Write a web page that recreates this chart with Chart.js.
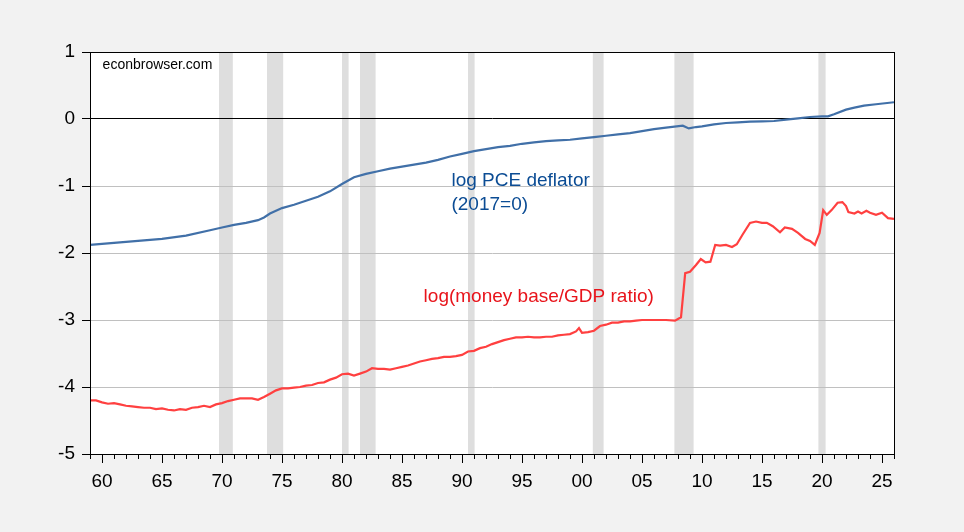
<!DOCTYPE html>
<html lang="en">
<head>
    <meta charset="UTF-8">
    <title>log PCE deflator and log(money base/GDP ratio)</title>
    <script src="https://cdn.jsdelivr.net/npm/chart.js"></script>
    <style>
        html, body { margin: 0; padding: 0; background: #F2F2F2; }
        #grafico { display: block; }
    </style>
</head>
<body>
    <canvas id="grafico" width="964" height="532"></canvas>

    <script>
        // log PCE deflator (2017=0)
        var pceYears = [1959, 1961, 1963, 1965, 1967, 1969, 1970, 1971, 1972, 1973, 1973.5, 1974, 1975, 1976, 1977, 1978, 1979, 1980, 1981, 1982,
            1983, 1984, 1985, 1986, 1987, 1988, 1989, 1990, 1991, 1992, 1993, 1994, 1995, 1996, 1997, 1998, 1999, 2000, 2001, 2002,
            2003, 2004, 2005, 2006, 2007, 2008.4, 2008.9, 2009.5, 2010, 2011, 2012, 2013, 2014, 2015, 2016, 2017, 2018, 2019, 2020,
            2020.5, 2021, 2022, 2022.7, 2023.5, 2024.5, 2026];
        var pceValues = [-1.88, -1.85, -1.82, -1.79, -1.74, -1.66, -1.62, -1.58, -1.55, -1.51, -1.47, -1.41, -1.33, -1.28, -1.22, -1.16, -1.08, -0.97, -0.87, -0.82,
            -0.78, -0.74, -0.71, -0.68, -0.65, -0.61, -0.56, -0.52, -0.48, -0.45, -0.42, -0.40, -0.37, -0.35, -0.33, -0.32, -0.31, -0.29, -0.27, -0.25,
            -0.23, -0.21, -0.18, -0.15, -0.13, -0.10, -0.14, -0.12, -0.11, -0.08, -0.06, -0.05, -0.04, -0.035, -0.03, -0.01, 0.01, 0.03, 0.04,
            0.04, 0.07, 0.14, 0.17, 0.20, 0.22, 0.25];

        // log(money base/GDP ratio)
        var baseYears = [1959, 1959.5, 1960, 1960.5, 1961, 1961.5, 1962, 1962.5, 1963, 1963.5, 1964, 1964.5, 1965, 1965.5, 1966, 1966.5, 1967, 1967.5, 1968, 1968.5,
            1969, 1969.5, 1970, 1970.5, 1971, 1971.5, 1972, 1972.5, 1973, 1973.5, 1974, 1974.5, 1975, 1975.5, 1976, 1976.5, 1977, 1977.5, 1978, 1978.5,
            1979, 1979.5, 1980, 1980.5, 1981, 1981.5, 1982, 1982.5, 1983, 1983.5, 1984, 1984.5, 1985, 1985.5, 1986, 1986.5, 1987, 1987.5, 1988, 1988.5,
            1989, 1989.5, 1990, 1990.5, 1991, 1991.5, 1992, 1992.5, 1993, 1993.5, 1994, 1994.5, 1995, 1995.5, 1996, 1996.5, 1997, 1997.5, 1998, 1998.5,
            1999, 1999.5, 1999.75, 2000, 2000.5, 2001, 2001.5, 2002, 2002.5, 2003, 2003.5, 2004, 2004.5, 2005, 2006, 2007, 2007.75, 2008.25, 2008.6, 2009,
            2009.5, 2009.9, 2010.3, 2010.7, 2011.1, 2011.5, 2012, 2012.5, 2012.9, 2013.4, 2014, 2014.5, 2015, 2015.4, 2015.9, 2016.5, 2016.9, 2017.5, 2018, 2018.6,
            2019, 2019.4, 2019.8, 2020.1, 2020.4, 2020.8, 2021.3, 2021.7, 2022, 2022.2, 2022.7, 2023, 2023.3, 2023.7, 2024, 2024.5, 2025, 2025.5, 2026];
        var baseValues = [-4.20, -4.20, -4.23, -4.25, -4.24, -4.26, -4.28, -4.29, -4.30, -4.31, -4.31, -4.33, -4.32, -4.34, -4.35, -4.33, -4.34, -4.31, -4.30, -4.28,
            -4.30, -4.26, -4.24, -4.21, -4.19, -4.17, -4.17, -4.17, -4.19, -4.15, -4.10, -4.05, -4.02, -4.02, -4.01, -4.00, -3.98, -3.97, -3.94, -3.93,
            -3.89, -3.86, -3.81, -3.80, -3.83, -3.80, -3.77, -3.72, -3.73, -3.73, -3.74, -3.72, -3.70, -3.68, -3.65, -3.62, -3.60, -3.58, -3.57, -3.55,
            -3.55, -3.54, -3.52, -3.47, -3.46, -3.42, -3.40, -3.36, -3.33, -3.30, -3.28, -3.26, -3.26, -3.25, -3.26, -3.26, -3.25, -3.25, -3.23, -3.22,
            -3.21, -3.17, -3.12, -3.19, -3.18, -3.16, -3.09, -3.07, -3.04, -3.04, -3.02, -3.02, -3.01, -3.00, -3.00, -3.00, -3.01, -2.96, -2.30, -2.28,
            -2.18, -2.09, -2.14, -2.13, -1.88, -1.89, -1.88, -1.91, -1.87, -1.72, -1.55, -1.53, -1.55, -1.55, -1.60, -1.69, -1.62, -1.64, -1.70, -1.79,
            -1.82, -1.88, -1.70, -1.36, -1.43, -1.36, -1.25, -1.24, -1.30, -1.39, -1.41, -1.38, -1.41, -1.37, -1.40, -1.43, -1.40, -1.48, -1.49];

        // NBER recessions (shaded)
        var recessionStart = [1969.75, 1973.75, 1980.0, 1981.5, 1990.5, 2000.9, 2007.7, 2019.7];
        var recessionEnd = [1970.9, 1975.1, 1980.55, 1982.8, 1991.05, 2001.8, 2009.3, 2020.3];

        var yTicks = [1, 0, -1, -2, -3, -4, -5];

        function pontos(xs, ys) {
            return xs.map((x, i) => ({ x: x, y: ys[i] }));
        }

        // fundo cinza, area branca e faixas de recessao
        const fundoPlugin = {
            id: 'fundo',
            beforeDraw(chart) {
                const ctx = chart.ctx;
                const a = chart.chartArea;
                const xs = chart.scales.x;
                ctx.save();
                ctx.fillStyle = '#F2F2F2';
                ctx.fillRect(0, 0, chart.width, chart.height);
                ctx.fillStyle = '#FFFFFF';
                ctx.fillRect(a.left, a.top, a.right - a.left, a.bottom - a.top);
                ctx.fillStyle = '#DEDEDE';
                for (let i = 0; i < recessionStart.length; i++) {
                    const x0 = xs.getPixelForValue(recessionStart[i]);
                    const x1 = xs.getPixelForValue(recessionEnd[i]);
                    ctx.fillRect(x0, a.top, x1 - x0, a.bottom - a.top);
                }
                ctx.restore();
            }
        };

        // moldura, marcas do eixo x e textos
        const molduraPlugin = {
            id: 'moldura',
            afterDraw(chart) {
                const ctx = chart.ctx;
                const a = chart.chartArea;
                const xs = chart.scales.x;
                const ys = chart.scales.y;
                ctx.save();
                ctx.strokeStyle = '#000000';
                ctx.lineWidth = 1;
                ctx.strokeRect(Math.round(a.left) + 0.5, Math.round(a.top) + 0.5,
                    Math.round(a.right - a.left), Math.round(a.bottom - a.top));

                ctx.beginPath();
                xs.ticks.forEach(t => {
                    const px = Math.round(xs.getPixelForValue(t.value)) + 0.5;
                    const len = (t.value % 5 === 0) ? 9 : 5;
                    ctx.moveTo(px, a.bottom);
                    ctx.lineTo(px, a.bottom + len);
                });
                ctx.stroke();

                ctx.textBaseline = 'middle';
                ctx.textAlign = 'left';
                ctx.font = '14px "Liberation Sans", Arial, sans-serif';
                ctx.fillStyle = '#000000';
                ctx.fillText('econbrowser.com', xs.getPixelForValue(1960.05), ys.getPixelForValue(0.81));

                ctx.font = '19px "Liberation Sans", Arial, sans-serif';
                ctx.fillStyle = '#0B4C94';
                ctx.fillText('log PCE deflator', xs.getPixelForValue(1989.12), ys.getPixelForValue(-0.92));
                ctx.fillText('(2017=0)', xs.getPixelForValue(1989.12), ys.getPixelForValue(-1.28));

                ctx.fillStyle = '#E8141B';
                ctx.fillText('log(money base/GDP ratio)', xs.getPixelForValue(1986.8), ys.getPixelForValue(-2.65));
                ctx.restore();
            }
        };

        const config = {
            type: 'line',
            data: {
                datasets: [{
                    label: 'log PCE deflator (2017=0)',
                    data: pontos(pceYears, pceValues),
                    borderColor: '#4170A8',
                    borderWidth: 2.2,
                    pointRadius: 0,
                    tension: 0
                }, {
                    label: 'log(money base/GDP ratio)',
                    data: pontos(baseYears, baseValues),
                    borderColor: '#FF4040',
                    borderWidth: 2.2,
                    pointRadius: 0,
                    tension: 0
                }]
            },
            options: {
                responsive: false,
                animation: false,
                layout: { padding: { left: 0, top: 52, right: 70, bottom: 28 } },
                plugins: {
                    legend: { display: false },
                    tooltip: { enabled: false }
                },
                scales: {
                    x: {
                        type: 'linear',
                        min: 1959,
                        max: 2026,
                        afterFit: s => { s.height = 50; },
                        afterBuildTicks: s => {
                            const t = [];
                            for (let y = 1959; y <= 2026; y++) t.push({ value: y });
                            s.ticks = t;
                        },
                        ticks: {
                            autoSkip: false,
                            maxRotation: 0,
                            padding: 16,
                            color: '#000000',
                            font: { family: '"Liberation Sans", Arial, sans-serif', size: 19 },
                            callback: v => (v % 5 === 0) ? String(v % 100).padStart(2, '0') : ''
                        },
                        grid: { display: true, drawOnChartArea: false, drawTicks: false },
                        border: { display: true, color: '#000000' }
                    },
                    y: {
                        min: -5,
                        max: 1,
                        afterFit: s => { s.width = 90; },
                        afterBuildTicks: s => { s.ticks = yTicks.map(v => ({ value: v })); },
                        ticks: {
                            padding: 7,
                            color: '#000000',
                            font: { family: '"Liberation Sans", Arial, sans-serif', size: 19 }
                        },
                        grid: {
                            color: c => (c.tick && c.tick.value === 0) ? '#000000' : '#C0C0C0',
                            tickColor: '#000000',
                            tickLength: 8,
                            lineWidth: 1
                        },
                        border: { display: true, color: '#000000' }
                    }
                }
            },
            plugins: [fundoPlugin, molduraPlugin]
        };

        new Chart(document.getElementById('grafico'), config);
    </script>
</body>
</html>
